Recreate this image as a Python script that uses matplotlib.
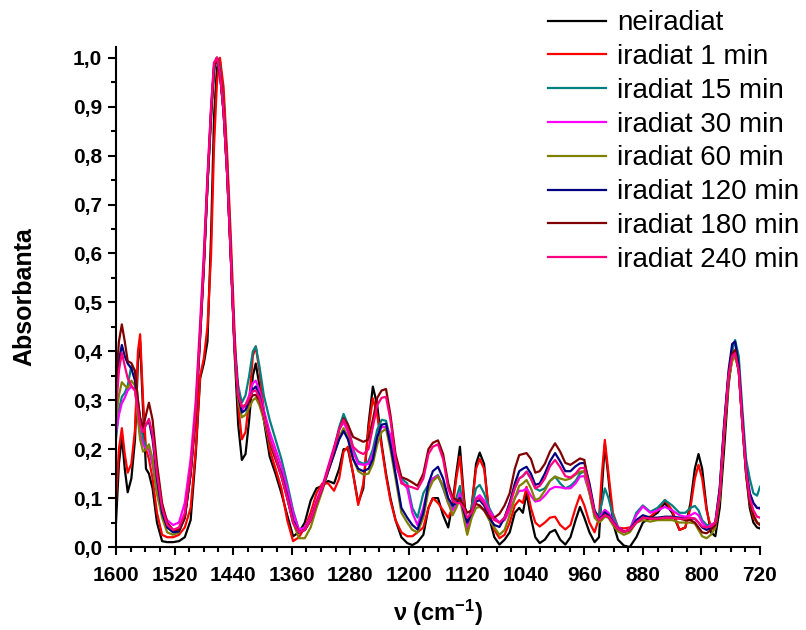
import numpy as np
import matplotlib
matplotlib.use("Agg")
import matplotlib.pyplot as plt
from matplotlib.ticker import MultipleLocator, FuncFormatter

plt.rcParams['font.family'] = ['Liberation Sans', 'DejaVu Sans']
plt.rcParams['mathtext.fontset'] = 'custom'
plt.rcParams['mathtext.rm'] = 'Liberation Sans:bold'
plt.rcParams['mathtext.default'] = 'rm'

# wavenumber grid (cm-1)
wn = [1600, 1596, 1592, 1588, 1584, 1579, 1574, 1570, 1567, 1563,
      1559, 1555, 1550, 1544, 1537, 1530, 1522, 1514, 1506, 1498,
      1491, 1485, 1480, 1475, 1470, 1466, 1462, 1458, 1453, 1448,
      1443, 1438, 1433, 1428, 1423, 1418, 1413, 1409, 1404, 1398,
      1390, 1382, 1374, 1366, 1358, 1350, 1342, 1334, 1326, 1318,
      1310, 1302, 1295, 1289, 1283, 1276, 1269, 1262, 1255, 1249,
      1243, 1237, 1231, 1225, 1218, 1210, 1202, 1195, 1188, 1180,
      1173, 1167, 1160, 1153, 1146, 1140, 1135, 1130, 1125, 1120,
      1114, 1108, 1103, 1097, 1090, 1083, 1076, 1069, 1062, 1055,
      1049, 1044, 1039, 1033, 1027, 1021, 1014, 1007, 1000, 993,
      986, 979, 972, 966, 960, 953, 946, 940, 936, 932,
      927, 921, 914, 906, 898, 889, 880, 870, 860, 850,
      840, 830, 822, 815, 809, 804, 799, 793, 787, 781,
      775, 769, 763, 758, 754, 749, 744, 739, 734, 729,
      724, 720]

neiradiat = [0.05, 0.17, 0.226, 0.16, 0.112, 0.14, 0.22, 0.38, 0.42, 0.28,
             0.16, 0.15, 0.12, 0.05, 0.012, 0.01, 0.01, 0.012, 0.02, 0.055,
             0.19, 0.345, 0.375, 0.42, 0.64, 0.88, 0.98, 0.995, 0.92, 0.78,
             0.6, 0.4, 0.25, 0.178, 0.19, 0.26, 0.35, 0.375, 0.33, 0.26,
             0.185, 0.15, 0.11, 0.065, 0.022, 0.03, 0.05, 0.095, 0.12, 0.125,
             0.135, 0.13, 0.16, 0.2, 0.2, 0.15, 0.09, 0.12, 0.25, 0.328,
             0.29, 0.21, 0.15, 0.1, 0.055, 0.02, 0.008, 0.004, 0.01, 0.025,
             0.08, 0.1, 0.1, 0.065, 0.04, 0.09, 0.15, 0.205, 0.11, 0.035,
             0.08, 0.17, 0.193, 0.17, 0.06, 0.02, 0.005, 0.015, 0.03, 0.07,
             0.08, 0.07, 0.11, 0.06, 0.02, 0.008, 0.015, 0.03, 0.035, 0.015,
             0.005, 0.02, 0.055, 0.082, 0.06, 0.03, 0.01, 0.02, 0.12, 0.21,
             0.14, 0.05, 0.015, 0.003, 0.0, 0.02, 0.05, 0.06, 0.07, 0.09,
             0.07, 0.035, 0.04, 0.09, 0.16, 0.19, 0.16, 0.08, 0.03, 0.022,
             0.08, 0.2, 0.33, 0.39, 0.4, 0.36, 0.25, 0.15, 0.08, 0.05,
             0.04, 0.038]

irr_1 = [0.095, 0.2, 0.243, 0.19, 0.152, 0.17, 0.24, 0.40, 0.435, 0.3,
         0.2, 0.18, 0.14, 0.07, 0.025, 0.02, 0.02, 0.025, 0.04, 0.08,
         0.2, 0.35, 0.385, 0.45, 0.6, 0.82, 0.95, 1.0, 0.94, 0.8,
         0.63, 0.44, 0.29, 0.22, 0.235, 0.3, 0.39, 0.41, 0.36, 0.28,
         0.2, 0.16, 0.12, 0.055, 0.012, 0.02, 0.04, 0.07, 0.11, 0.13,
         0.13, 0.115, 0.14, 0.195, 0.205, 0.15, 0.086, 0.13, 0.24, 0.304,
         0.27, 0.205, 0.145, 0.095, 0.055, 0.03, 0.022, 0.022, 0.03, 0.04,
         0.08, 0.1, 0.09, 0.075, 0.06, 0.08, 0.14, 0.185, 0.1, 0.03,
         0.08, 0.16, 0.18, 0.16, 0.07, 0.035, 0.018, 0.025, 0.05, 0.085,
         0.096, 0.09, 0.123, 0.08, 0.05, 0.042, 0.05, 0.06, 0.062, 0.045,
         0.036, 0.045, 0.08, 0.106, 0.085, 0.05, 0.03, 0.06, 0.15, 0.219,
         0.15, 0.07, 0.04, 0.038, 0.04, 0.05, 0.06, 0.062, 0.075, 0.096,
         0.075, 0.035, 0.04, 0.08, 0.14, 0.168, 0.14, 0.075, 0.04, 0.04,
         0.1, 0.23, 0.34, 0.385, 0.395, 0.36, 0.26, 0.16, 0.09, 0.06,
         0.05, 0.045]

irr_15 = [0.22, 0.28, 0.307, 0.315, 0.33, 0.37, 0.36, 0.30, 0.26, 0.22,
          0.205, 0.2, 0.17, 0.11, 0.07, 0.045, 0.035, 0.035, 0.06, 0.15,
          0.28, 0.44, 0.58, 0.74, 0.88, 0.97, 1.0, 0.98, 0.9, 0.77,
          0.6, 0.42, 0.33, 0.295, 0.31, 0.35, 0.4, 0.41, 0.37, 0.31,
          0.26, 0.22, 0.18, 0.13, 0.075, 0.035, 0.035, 0.055, 0.09, 0.12,
          0.16, 0.2, 0.245, 0.272, 0.25, 0.2, 0.175, 0.17, 0.175, 0.2,
          0.24, 0.26, 0.258, 0.22, 0.17, 0.14, 0.13, 0.08, 0.06, 0.11,
          0.128, 0.14, 0.147, 0.12, 0.09, 0.08, 0.1, 0.125, 0.07, 0.05,
          0.08, 0.12, 0.127, 0.11, 0.08, 0.06, 0.05, 0.06, 0.09, 0.12,
          0.14, 0.145, 0.154, 0.14, 0.12, 0.115, 0.12, 0.135, 0.144, 0.13,
          0.12, 0.125, 0.135, 0.15, 0.155, 0.12, 0.07, 0.065, 0.09, 0.12,
          0.1, 0.065, 0.04, 0.031, 0.035, 0.07, 0.085, 0.072, 0.08, 0.096,
          0.085, 0.07, 0.07, 0.08, 0.084, 0.075, 0.055, 0.045, 0.045, 0.05,
          0.12, 0.25, 0.35, 0.40, 0.423, 0.39, 0.28, 0.18, 0.14, 0.11,
          0.105, 0.123]

irr_30 = [0.233, 0.27, 0.294, 0.305, 0.32, 0.328, 0.32, 0.27, 0.23, 0.21,
          0.2, 0.2, 0.17, 0.12, 0.08, 0.055, 0.045, 0.05, 0.09, 0.18,
          0.3, 0.46, 0.6, 0.76, 0.9, 0.99, 1.0, 0.97, 0.89, 0.76,
          0.59, 0.41, 0.31, 0.28, 0.29, 0.31, 0.335, 0.34, 0.32, 0.28,
          0.235, 0.2, 0.165, 0.12, 0.07, 0.035, 0.04, 0.06, 0.095, 0.125,
          0.165, 0.205, 0.24, 0.255, 0.235, 0.195, 0.17, 0.168, 0.17, 0.19,
          0.225, 0.245, 0.245, 0.23, 0.17, 0.135, 0.12, 0.07, 0.045, 0.08,
          0.125, 0.14, 0.145, 0.125, 0.09, 0.075, 0.085, 0.11, 0.07, 0.04,
          0.07, 0.1, 0.106, 0.095, 0.075, 0.06, 0.05, 0.055, 0.075, 0.1,
          0.115, 0.115, 0.12, 0.105, 0.093, 0.095, 0.105, 0.118, 0.123, 0.122,
          0.12, 0.12, 0.13, 0.144, 0.145, 0.11, 0.065, 0.058, 0.068, 0.076,
          0.07, 0.055, 0.04, 0.032, 0.035, 0.065, 0.083, 0.07, 0.075, 0.082,
          0.075, 0.065, 0.062, 0.065, 0.07, 0.065, 0.05, 0.04, 0.045, 0.05,
          0.11, 0.24, 0.35, 0.39, 0.40, 0.37, 0.26, 0.16, 0.11, 0.09,
          0.08, 0.078]

irr_60 = [0.26, 0.31, 0.337, 0.33, 0.325, 0.34, 0.33, 0.26, 0.22, 0.195,
          0.2, 0.21, 0.18, 0.11, 0.06, 0.03, 0.025, 0.03, 0.06, 0.16,
          0.28, 0.44, 0.58, 0.74, 0.88, 0.98, 1.0, 0.97, 0.89, 0.76,
          0.59, 0.4, 0.3, 0.265, 0.27, 0.285, 0.3, 0.305, 0.29, 0.26,
          0.21, 0.18, 0.145, 0.1, 0.05, 0.018, 0.018, 0.04, 0.08, 0.115,
          0.155, 0.19, 0.225, 0.243, 0.225, 0.18, 0.155, 0.148, 0.15, 0.17,
          0.21, 0.235, 0.242, 0.2, 0.14, 0.07, 0.05, 0.035, 0.03, 0.06,
          0.115, 0.135, 0.144, 0.125, 0.09, 0.065, 0.08, 0.1, 0.06, 0.025,
          0.06, 0.08, 0.082, 0.075, 0.055, 0.04, 0.025, 0.035, 0.065, 0.1,
          0.125, 0.13, 0.137, 0.12, 0.096, 0.1, 0.115, 0.135, 0.144, 0.14,
          0.137, 0.14, 0.148, 0.154, 0.155, 0.11, 0.06, 0.05, 0.055, 0.062,
          0.06, 0.045, 0.032, 0.025, 0.03, 0.05, 0.055, 0.052, 0.055, 0.055,
          0.055, 0.05, 0.05, 0.05, 0.048, 0.035, 0.022, 0.018, 0.025, 0.04,
          0.1, 0.23, 0.34, 0.38, 0.39, 0.36, 0.25, 0.15, 0.09, 0.065,
          0.05, 0.048]

irr_120 = [0.30, 0.38, 0.413, 0.39, 0.375, 0.365, 0.34, 0.29, 0.26, 0.24,
           0.25, 0.258, 0.22, 0.14, 0.07, 0.04, 0.03, 0.032, 0.06, 0.15,
           0.27, 0.43, 0.57, 0.74, 0.89, 0.98, 1.0, 0.97, 0.89, 0.76,
           0.59, 0.41, 0.31, 0.275, 0.28, 0.3, 0.322, 0.328, 0.31, 0.27,
           0.22, 0.185, 0.15, 0.105, 0.055, 0.03, 0.035, 0.055, 0.09, 0.12,
           0.155, 0.19, 0.22, 0.237, 0.22, 0.18, 0.16, 0.155, 0.16, 0.18,
           0.225, 0.25, 0.252, 0.21, 0.15, 0.08, 0.06, 0.045, 0.036, 0.07,
           0.13, 0.155, 0.164, 0.14, 0.1, 0.085, 0.09, 0.1, 0.075, 0.05,
           0.07, 0.093, 0.096, 0.085, 0.06, 0.045, 0.041, 0.06, 0.09, 0.13,
           0.155, 0.16, 0.164, 0.15, 0.127, 0.13, 0.15, 0.175, 0.192, 0.175,
           0.155, 0.155, 0.165, 0.171, 0.172, 0.13, 0.075, 0.058, 0.062, 0.071,
           0.065, 0.052, 0.038, 0.031, 0.035, 0.055, 0.065, 0.06, 0.06, 0.062,
           0.062, 0.06, 0.058, 0.058, 0.058, 0.05, 0.04, 0.035, 0.04, 0.05,
           0.12, 0.25, 0.36, 0.415, 0.42, 0.37, 0.26, 0.16, 0.11, 0.09,
           0.08, 0.08]

irr_180 = [0.33, 0.42, 0.455, 0.42, 0.38, 0.376, 0.36, 0.30, 0.265, 0.245,
           0.27, 0.295, 0.26, 0.17, 0.09, 0.05, 0.035, 0.035, 0.06, 0.15,
           0.27, 0.43, 0.57, 0.74, 0.89, 0.98, 1.0, 0.97, 0.89, 0.76,
           0.59, 0.41, 0.31, 0.287, 0.29, 0.3, 0.31, 0.311, 0.3, 0.27,
           0.215, 0.18, 0.145, 0.1, 0.05, 0.03, 0.035, 0.055, 0.09, 0.12,
           0.16, 0.2, 0.24, 0.263, 0.25, 0.225, 0.22, 0.215, 0.22, 0.26,
           0.305, 0.32, 0.323, 0.27, 0.19, 0.143, 0.138, 0.132, 0.125, 0.15,
           0.2, 0.213, 0.218, 0.19, 0.13, 0.1, 0.097, 0.096, 0.085, 0.07,
           0.075, 0.088, 0.085, 0.075, 0.06, 0.06, 0.068, 0.085, 0.11, 0.16,
           0.188, 0.19, 0.192, 0.18, 0.152, 0.155, 0.17, 0.195, 0.212, 0.195,
           0.172, 0.168, 0.175, 0.181, 0.178, 0.12, 0.07, 0.055, 0.06, 0.066,
           0.062, 0.05, 0.037, 0.031, 0.035, 0.05, 0.06, 0.058, 0.058, 0.06,
           0.06, 0.058, 0.055, 0.055, 0.05, 0.04, 0.03, 0.028, 0.035, 0.045,
           0.11, 0.24, 0.35, 0.395, 0.403, 0.36, 0.25, 0.15, 0.09, 0.065,
           0.05, 0.045]

irr_240 = [0.28, 0.36, 0.397, 0.37, 0.345, 0.33, 0.32, 0.28, 0.25, 0.235,
           0.25, 0.262, 0.23, 0.15, 0.08, 0.045, 0.035, 0.04, 0.07, 0.16,
           0.28, 0.44, 0.58, 0.75, 0.9, 0.99, 1.0, 0.97, 0.89, 0.76,
           0.59, 0.41, 0.31, 0.287, 0.29, 0.305, 0.318, 0.32, 0.305, 0.27,
           0.22, 0.185, 0.145, 0.1, 0.05, 0.03, 0.035, 0.055, 0.09, 0.12,
           0.16, 0.2, 0.24, 0.26, 0.24, 0.205, 0.195, 0.19, 0.2, 0.245,
           0.29, 0.305, 0.307, 0.26, 0.18, 0.13, 0.125, 0.122, 0.118, 0.14,
           0.19, 0.205, 0.21, 0.18, 0.12, 0.095, 0.09, 0.09, 0.08, 0.06,
           0.07, 0.098, 0.1, 0.09, 0.07, 0.055, 0.05, 0.06, 0.085, 0.12,
           0.14, 0.145, 0.154, 0.14, 0.12, 0.125, 0.14, 0.165, 0.178, 0.163,
           0.145, 0.142, 0.15, 0.161, 0.162, 0.12, 0.07, 0.055, 0.06, 0.065,
           0.062, 0.05, 0.037, 0.031, 0.035, 0.05, 0.06, 0.058, 0.058, 0.06,
           0.06, 0.058, 0.058, 0.06, 0.058, 0.05, 0.042, 0.04, 0.042, 0.05,
           0.11, 0.24, 0.35, 0.39, 0.396, 0.36, 0.25, 0.155, 0.1, 0.075,
           0.062, 0.06]

labels = ['neiradiat', 'iradiat 1 min', 'iradiat 15 min', 'iradiat 30 min',
          'iradiat 60 min', 'iradiat 120 min', 'iradiat 180 min', 'iradiat 240 min']
colors = ['#000000', '#FF0000', '#008080', '#FF00FF',
          '#808000', '#000080', '#800000', '#FF0080']
series = [neiradiat, irr_1, irr_15, irr_30, irr_60, irr_120, irr_180, irr_240]

fig = plt.figure(figsize=(8.06, 6.3), dpi=100)
ax = fig.add_axes([0.1439, 0.1317, 0.799, 0.7937])

for y, c, lab in zip(series, colors, labels):
    ax.plot(wn, y, color=c, lw=1.6, label=lab)

ax.set_xlim(1600, 720)
ax.set_ylim(0, 1.022)

ax.xaxis.set_major_locator(MultipleLocator(80))
ax.xaxis.set_minor_locator(MultipleLocator(20))
ax.yaxis.set_major_locator(MultipleLocator(0.1))
ax.yaxis.set_minor_locator(MultipleLocator(0.05))
ax.yaxis.set_major_formatter(FuncFormatter(lambda v, p: f"{v:.1f}".replace('.', ',')))

for s in ['top', 'right']:
    ax.spines[s].set_visible(False)
for s in ['left', 'bottom']:
    ax.spines[s].set_linewidth(1.5)

ax.tick_params(which='major', direction='out', length=6, width=1.5, labelsize=15)
ax.tick_params(which='minor', direction='out', length=3.5, width=1.5)
ax.tick_params(axis='x', which='major', pad=8)
ax.tick_params(axis='y', which='major', pad=4)
for t in ax.get_xticklabels() + ax.get_yticklabels():
    t.set_fontweight('bold')

ax.set_ylabel('Absorbanta', fontsize=18, fontweight='bold', labelpad=26)
ax.set_xlabel('ν (cm$^{-1}$)', fontsize=17, fontweight='bold', labelpad=9)

ax.legend(loc='upper left', bbox_to_anchor=(0.676, 0.988), bbox_transform=fig.transFigure,
          frameon=False, fontsize=20, handlelength=2.1, handletextpad=0.4,
          labelspacing=0.28, borderpad=0.1, borderaxespad=0)

fig.savefig('out.png', dpi=100)
